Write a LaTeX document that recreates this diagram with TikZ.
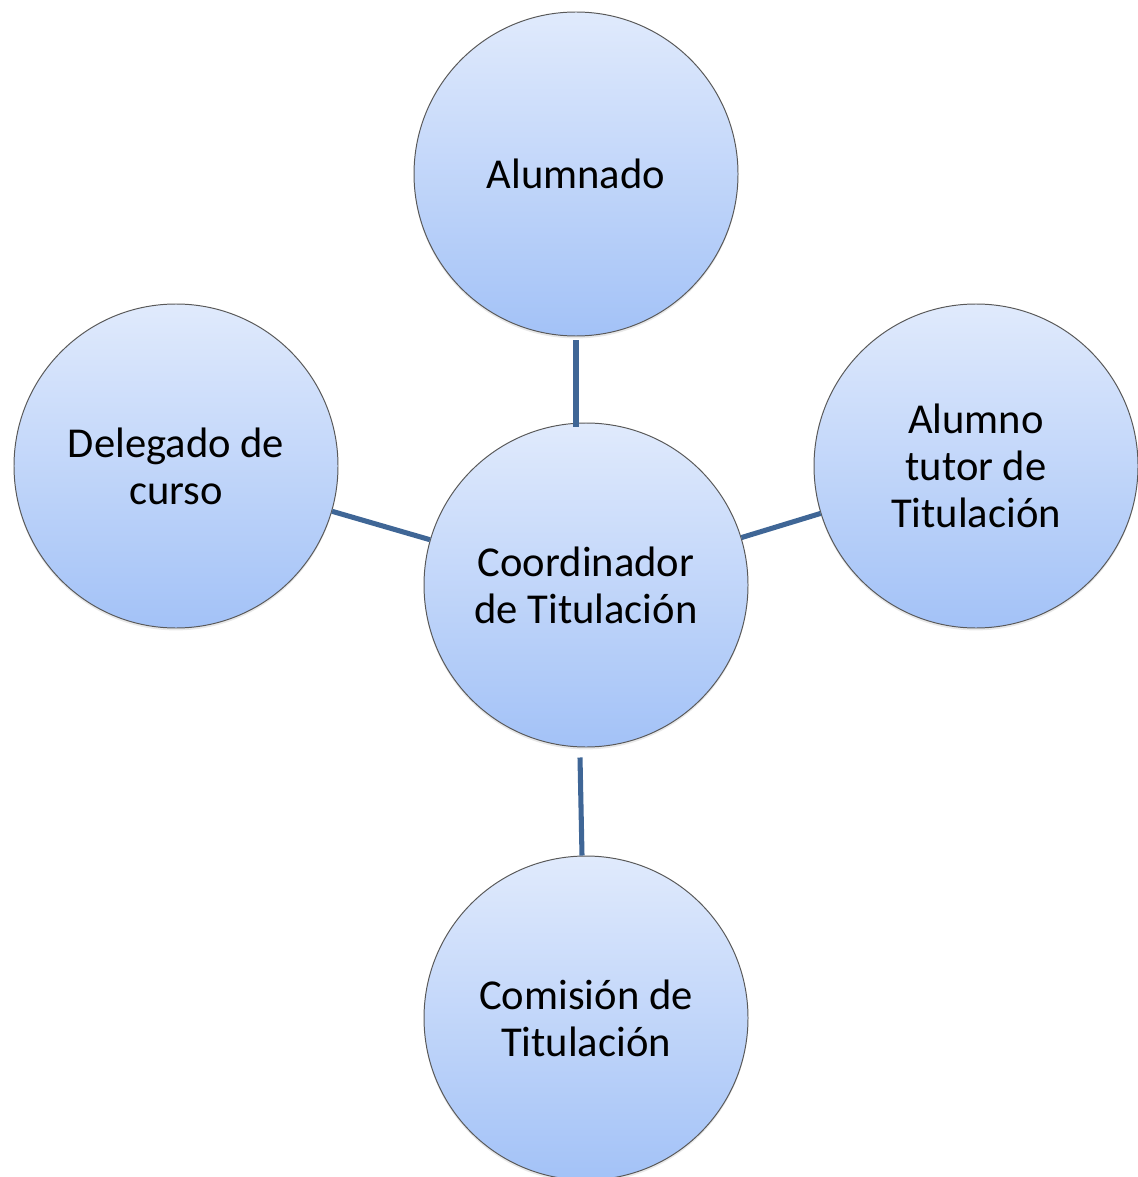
\documentclass[tikz,border=0pt]{standalone}
\usepackage{fontspec}
\setmainfont{Carlito}
\usetikzlibrary{positioning,shadows}
\definecolor{circtop}{RGB}{224,234,252}
\definecolor{circbot}{RGB}{163,194,247}
\definecolor{linkblue}{RGB}{63,102,150}
\begin{document}
\begin{tikzpicture}[on grid]
        {
          \useasboundingbox (0,0) rectangle (28.425,-29.425);

          \tikzstyle{place}=[circle,draw=gray!70!black,line width=0.7pt,top color=circtop,bottom color=circbot,minimum size=8.1cm,inner sep=0pt,align=center,font=\fontsize{30.3}{33.5}\selectfont,drop shadow={opacity=0.18,shadow xshift=0pt,shadow yshift=-0.06cm}]
          \tikzstyle{link}=[draw=linkblue,line width=3.6pt]
          \begin{scope}

            \node [place] (c1) at (14.65,-14.625) {Coordinador\\de Titulación};

            \node [place] (c2) [above=10.275cm of c1,xshift=-0.25cm] {Alumnado};
            \draw [link] ([yshift=-0.1cm]c2.south) -- ([yshift=-0.1cm]c2.south |- c1.north);

            \node [place] (c3) [above left=2.975cm and 10.25cm of c1] {Delegado de\\curso}
            edge [link] (c1);

            \node [place] (c4) [above right=2.975cm and 9.75cm of c1] {Alumno\\tutor de\\Titulación}
            edge [link] (c1);

            \node [place] (c5) [below=10.825cm of c1] {Comisión de\\Titulación};
            \draw [link] ([xshift=-0.15cm,yshift=-0.25cm]c1.south) -- ([xshift=-0.1cm]c5.north);

          \end{scope}
        }
\end{tikzpicture}
\end{document}
